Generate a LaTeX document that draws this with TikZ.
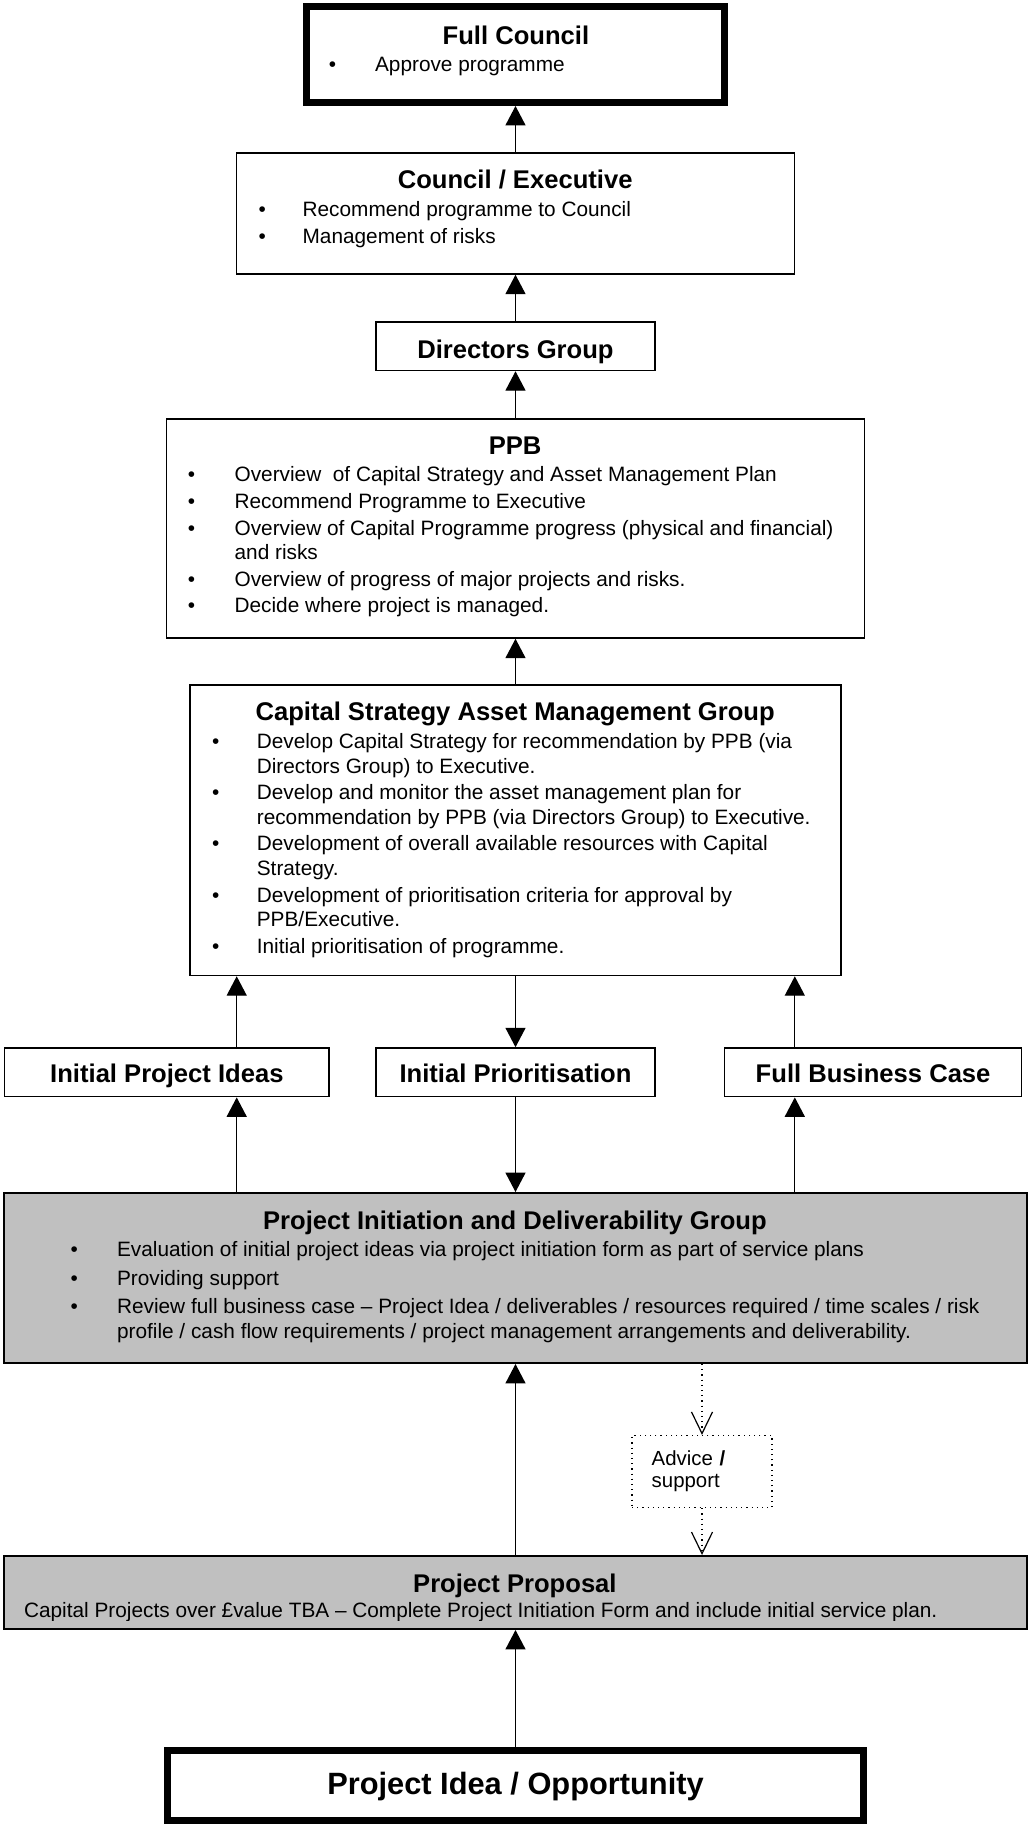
\documentclass[tikz,border=0pt]{standalone}
\usepackage{fontspec}
\setmainfont{Liberation Sans}
\usetikzlibrary{arrows.meta}

\definecolor{panelgray}{HTML}{C0C0C0}

\newcommand{\titlefont}{\fontsize{12.8}{14}\selectfont\bfseries}
\newcommand{\bodyfont}{\fontsize{10.4}{12.3}\selectfont}
\newlength{\bulx}
\newlength{\txtx}
\newlength{\itemgap}
% one bullet point with hanging indent
\newcommand{\bpoint}[1]{\par\vspace{\itemgap}\setlength{\itemgap}{\pointgap}%
  \hangindent=\txtx\hangafter=1\noindent\hspace*{\bulx}%
  \makebox[\dimexpr\txtx-\bulx\relax][l]{\textbullet}#1}
% [gap] {width} {bullet x} {text x} {title} {points}
\newcommand{\boxtext}[6][1pt]{\parbox[t]{#2}{\def\pointgap{#1}%
  \setlength{\bulx}{#3}\setlength{\txtx}{#4}\setlength{\itemgap}{1.5pt}%
  {\centering\titlefont #5\par}\raggedright\bodyfont #6}}

\begin{document}
\begin{tikzpicture}[x=0.5pt,y=-0.5pt,
    box/.style={draw,line width=0.75pt,inner sep=0pt},
    thickbox/.style={draw,line width=3.3pt,inner sep=0pt},
    greybox/.style={draw,line width=1pt,fill=panelgray,inner sep=0pt},
    advbox/.style={draw,dotted,line width=0.6pt,inner xsep=9.85pt,inner ysep=0pt,
      text width=50.3pt,align=left,font=\fontsize{10.2}{11}\selectfont},
    head/.style={font=\titlefont,text height=10.2pt,text depth=0pt},
    txt/.style={inner sep=0pt,anchor=base west},
    arr/.style={line width=0.65pt,-{Triangle[length=9.7pt,width=10pt]}},
    advarr/.style={line width=0.6pt,dotted,-{Straight Barb[length=10.8pt,width=10.5pt]}}]
  \useasboundingbox (0,0) rectangle (1028,1825);

  % boxes
  \node[thickbox,minimum width=208.9pt,minimum height=48pt] (fc) at (515.5,54.7) {};
  \node[box,minimum width=279pt,minimum height=60.5pt] (ce) at (515.5,213.5) {};
  \node[box,head,text height=11.8pt,minimum width=139.5pt,minimum height=24.25pt] (dg) at (515.5,346.25) {Directors Group};
  \node[box,minimum width=349pt,minimum height=109.5pt] (ppb) at (515.5,528.5) {};
  \node[box,minimum width=325.5pt,minimum height=145.25pt] (csam) at (515.5,830.25) {};
  \node[box,head,minimum width=162.3pt,minimum height=24.35pt] (ipi) at (166.9,1072.3) {Initial Project Ideas};
  \node[box,head,minimum width=139.65pt,minimum height=24.35pt] (ip) at (515.5,1072.3) {Initial Prioritisation};
  \node[box,head,minimum width=148.5pt,minimum height=24.35pt] (fbc) at (873.1,1072.3) {Full Business Case};
  \node[greybox,minimum width=511.2pt,minimum height=85pt] (pidg) at (515.5,1278) {};
  \node[advbox,minimum height=36pt] (adv) at (702,1471.5) {Advice \textbf{/}\\support};
  \node[greybox,minimum width=511.2pt,minimum height=36.5pt] (pp) at (515.5,1592.5) {};
  \node[thickbox,font=\fontsize{15.4}{17}\selectfont\bfseries,text height=9pt,text depth=0pt,
    minimum width=348.2pt,minimum height=35.2pt] (pi) at (515.5,1785.5) {Project Idea / Opportunity};

  % box texts
  \node[txt] (fc-text) at ([yshift=-20.35pt]fc.north west)
    {\boxtext{212.2pt}{12.6pt}{35.7pt}{Full Council}{\bpoint{Approve programme}}};
  \node[txt] (ce-text) at ([yshift=-18.3pt]ce.north west)
    {\boxtext{279pt}{11.2pt}{33.25pt}{Council / Executive}{%
      \bpoint{Recommend programme to Council}%
      \bpoint{Management of risks}}};
  \node[txt] (ppb-text) at ([yshift=-18pt]ppb.north west)
    {\boxtext{349pt}{10.8pt}{34.25pt}{PPB}{%
      \bpoint{Overview\ \ of Capital Strategy and Asset Management Plan}%
      \bpoint{Recommend Programme to Executive}%
      \bpoint{Overview of Capital Programme progress (physical and financial)\newline and risks}%
      \bpoint{Overview of progress of major projects and risks.}%
      \bpoint{Decide where project is managed.}}};
  \node[txt] (csam-text) at ([yshift=-18.35pt]csam.north west)
    {\boxtext{325.5pt}{11.2pt}{33.6pt}{Capital Strategy Asset Management Group}{%
      \bpoint{Develop Capital Strategy for recommendation by PPB (via\newline Directors Group) to Executive.}%
      \bpoint{Develop and monitor the asset management plan for\newline recommendation by PPB (via Directors Group) to Executive.}%
      \bpoint{Development of overall available resources with Capital\newline Strategy.}%
      \bpoint{Development of prioritisation criteria for approval by\newline PPB/Executive.}%
      \bpoint{Initial prioritisation of programme.}}};
  \node[txt] (pidg-text) at ([yshift=-18.65pt]pidg.north west)
    {\boxtext[1.9pt]{511.2pt}{33.5pt}{56.7pt}{Project Initiation and Deliverability Group}{%
      \bpoint{Evaluation of initial project ideas via project initiation form as part of service plans}%
      \bpoint{Providing support}%
      \bpoint{Review full business case – Project Idea / deliverables / resources required / time scales / risk\newline profile / cash flow requirements / project management arrangements and deliverability.}}};
  \begin{scope}
    \clip (pp.north west) rectangle ([yshift=5pt]pp.south east);
    \node[txt] (pp-text) at ([yshift=-18.85pt]pp.north west)
      {\parbox[t]{511.2pt}{{\centering\titlefont Project Proposal\par}\raggedright\bodyfont
        \vspace{0.2pt}\hspace*{10.2pt}Capital Projects over £value TBA – Complete Project Initiation Form and include initial service plan.}};
  \end{scope}

  % connectors
  \coordinate (lx) at (236.7,1000);
  \coordinate (rx) at (794.8,1000);
  \draw[arr] (ce.north) -- (fc.south);
  \draw[arr] (dg.north) -- (ce.south);
  \draw[arr] (ppb.north) -- (dg.south);
  \draw[arr] (csam.north) -- (ppb.south);
  \draw[arr] (ipi.north -| lx) -- (csam.south -| lx);
  \draw[arr] (csam.south -| ip) -- (ip.north);
  \draw[arr] (fbc.north -| rx) -- (csam.south -| rx);
  \draw[arr] (pidg.north -| lx) -- (ipi.south -| lx);
  \draw[arr] (ip.south) -- (pidg.north -| ip);
  \draw[arr] (pidg.north -| rx) -- (fbc.south -| rx);
  \draw[arr] (pp.north) -- (pidg.south);
  \draw[arr] (pi.north) -- (pp.south);
  \draw[advarr] (pidg.south -| adv) -- (adv.north);
  \draw[advarr] (adv.south) -- (pp.north -| adv);
\end{tikzpicture}
\end{document}
